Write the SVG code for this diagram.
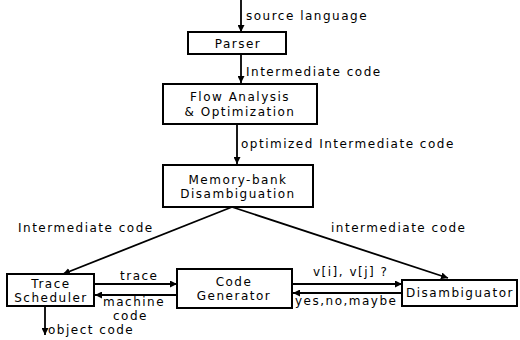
<svg xmlns="http://www.w3.org/2000/svg" width="520" height="340" viewBox="0 0 520 340">
<style>
text{font-family:"DejaVu Sans","Liberation Sans",sans-serif;font-size:12px;letter-spacing:1.5px;fill:#000}
.c{text-anchor:middle}
rect{fill:#fff;stroke:#000;stroke-width:2}
line{stroke:#000;stroke-width:1.8}
</style>
<defs>
<marker id="ah" viewBox="0 0 10 10" refX="10" refY="5" markerWidth="7" markerHeight="7" markerUnits="userSpaceOnUse" orient="auto"><path d="M0,0L10,5L0,10z" fill="#000"/></marker>
</defs>
<g id="connectors">
<line x1="241" y1="0" x2="241" y2="32" marker-end="url(#ah)"/>
<text x="246" y="20">source language</text>
<line x1="241" y1="54" x2="241" y2="83" marker-end="url(#ah)"/>
<text x="246" y="76">Intermediate code</text>
<line x1="237" y1="124" x2="237" y2="164" marker-end="url(#ah)"/>
<text x="241" y="148">optimized Intermediate code</text>
<line x1="232" y1="207" x2="63" y2="274" marker-end="url(#ah)"/>
<text x="18" y="232">Intermediate code</text>
<line x1="232" y1="207" x2="448" y2="278" marker-end="url(#ah)"/>
<text x="331" y="232">intermediate code</text>
<line x1="94" y1="284" x2="177" y2="284" marker-end="url(#ah)"/>
<text x="120" y="280">trace</text>
<line x1="177" y1="295" x2="95" y2="295" marker-end="url(#ah)"/>
<text x="103" y="306">machine</text>
<text x="113" y="320">code</text>
<line x1="45" y1="306" x2="45" y2="335" marker-end="url(#ah)"/>
<text x="48" y="334">object code</text>
<line x1="292" y1="284" x2="402" y2="284" marker-end="url(#ah)"/>
<text x="313" y="276">v[i], v[j] ?</text>
<line x1="402" y1="293" x2="293" y2="293" marker-end="url(#ah)"/>
<text x="295" y="305">yes,no,maybe</text>
</g>
<g id="parser"><rect x="188" y="32" width="98" height="22"/><text class="c" x="238" y="48">Parser</text></g>
<g id="flow"><rect x="163" y="84" width="154" height="40"/><text class="c" x="240" y="101">Flow Analysis</text><text class="c" x="240" y="116">&amp; Optimization</text></g>
<g id="membank"><rect x="163" y="165" width="150" height="42"/><text class="c" x="238" y="184">Memory-bank</text><text class="c" x="238" y="198">Disambiguation</text></g>
<g id="trace"><rect x="7" y="274" width="87" height="32"/><text class="c" x="51" y="288">Trace</text><text class="c" x="51" y="302">Scheduler</text></g>
<g id="codegen"><rect x="177" y="269" width="115" height="39"/><text class="c" x="234" y="286">Code</text><text class="c" x="234" y="300">Generator</text></g>
<g id="disamb"><rect x="402" y="280" width="115" height="26"/><text class="c" x="460" y="297">Disambiguator</text></g>
</svg>
